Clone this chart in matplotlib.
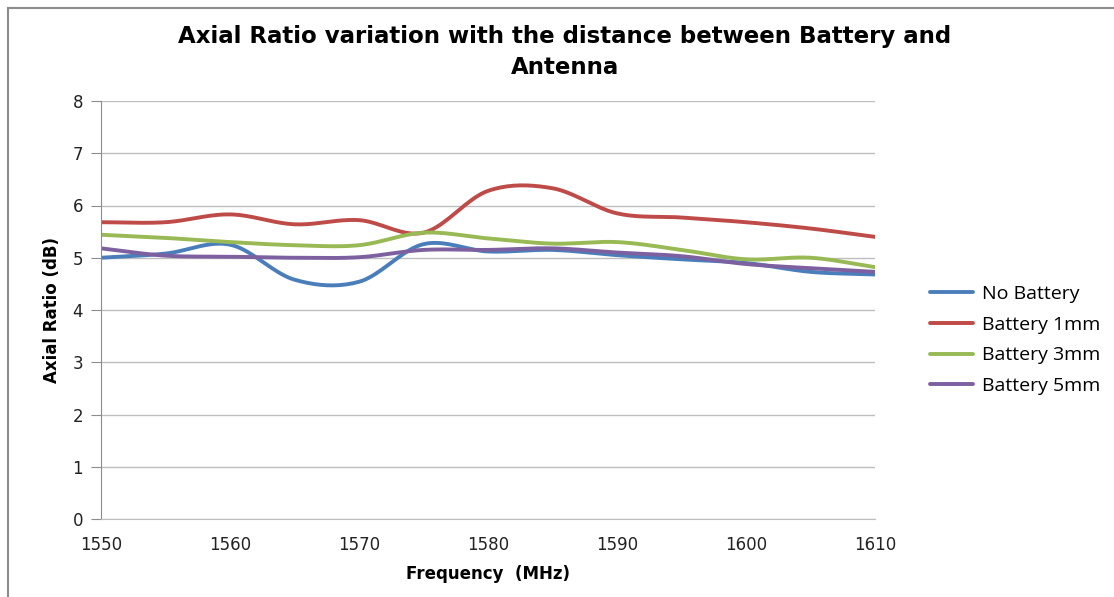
import numpy as np
import matplotlib
matplotlib.use("Agg")
import matplotlib.pyplot as plt
from matplotlib.lines import Line2D

# --- datos ---
freq = [1550, 1555, 1560, 1565, 1570, 1575, 1580, 1585, 1590, 1595, 1600, 1605, 1610]
no_battery = [5.00, 5.08, 5.25, 4.58, 4.54, 5.26, 5.12, 5.15, 5.05, 4.97, 4.90, 4.73, 4.68]
battery_1mm = [5.68, 5.68, 5.83, 5.64, 5.72, 5.48, 6.28, 6.33, 5.85, 5.77, 5.68, 5.56, 5.40]
battery_3mm = [5.44, 5.38, 5.30, 5.24, 5.24, 5.48, 5.37, 5.27, 5.30, 5.15, 4.97, 5.00, 4.82]
battery_5mm = [5.18, 5.04, 5.02, 5.00, 5.01, 5.15, 5.15, 5.18, 5.10, 5.03, 4.88, 4.80, 4.73]

series = [
    ("No Battery", no_battery, "#4A7EBB"),
    ("Battery 1mm", battery_1mm, "#BE4B48"),
    ("Battery 3mm", battery_3mm, "#98B954"),
    ("Battery 5mm", battery_5mm, "#7D60A0"),
]


def suavizar(x, y, n=20):
    """Curva Catmull-Rom como la linea suavizada de Excel"""
    x = np.asarray(x, float)
    y = np.asarray(y, float)
    px = np.concatenate([[2 * x[0] - x[1]], x, [2 * x[-1] - x[-2]]])
    py = np.concatenate([[2 * y[0] - y[1]], y, [2 * y[-1] - y[-2]]])
    xs, ys = [], []
    t = np.linspace(0, 1, n, endpoint=False)
    for i in range(1, len(px) - 2):
        for p, out in ((px, xs), (py, ys)):
            p0, p1, p2, p3 = p[i - 1], p[i], p[i + 1], p[i + 2]
            out.extend(0.5 * (2 * p1 + (-p0 + p2) * t
                              + (2 * p0 - 5 * p1 + 4 * p2 - p3) * t ** 2
                              + (-p0 + 3 * p1 - 3 * p2 + p3) * t ** 3))
    xs.append(x[-1])
    ys.append(y[-1])
    return np.array(xs), np.array(ys)


fuente = ['Liberation Sans Narrow', 'DejaVu Sans']
plt.rcParams['font.family'] = fuente

fig = plt.figure(figsize=(11.14, 5.97), dpi=100)
ax = fig.add_axes([101 / 1114, 1 - 519 / 597, (875 - 101) / 1114, (519 - 101) / 597])

for nombre, valores, color in series:
    xs, ys = suavizar(freq, valores)
    ax.plot(xs, ys, color=color, lw=2.8, label=nombre, solid_capstyle='round')

ax.set_xlim(1550, 1610)
ax.set_ylim(0, 8)
ax.set_xticks(range(1550, 1611, 10))
ax.set_yticks(range(0, 9))
ax.yaxis.grid(True, color='#BEBEBE', lw=1.0)
ax.set_axisbelow(True)
for lado in ['top', 'right']:
    ax.spines[lado].set_visible(False)
ax.spines['left'].set_color('#8C8C8C')
ax.spines['bottom'].set_color('#BEBEBE')
ax.tick_params(axis='y', length=7, color='#8C8C8C', labelsize=12, pad=6, labelcolor='#222222')
ax.tick_params(axis='x', length=0, labelsize=12, pad=12, labelcolor='#222222')

ax.set_xlabel('Frequency  (MHz)', fontsize=12, fontweight='bold', labelpad=8)
ax.set_ylabel('Axial Ratio (dB)', fontsize=12, fontweight='bold', labelpad=8)

fig.text(565 / 1114, 1 - 52 / 597,
         'Axial Ratio variation with the distance between Battery and\nAntenna',
         ha='center', va='center', fontsize=16.5, fontweight='bold', linespacing=1.45)

leg = ax.legend(loc='center left', bbox_to_anchor=((930 - 101) / 774, (519 - 340) / 418),
                frameon=False, handlelength=2.2, labelspacing=0.65, handletextpad=0.45,
                borderpad=0, borderaxespad=0,
                prop={'family': ['Open Sans', 'DejaVu Sans'], 'size': 14})

# borde del area del grafico
fig.add_artist(Line2D([8 / 1114, 1], [1 - 8 / 597, 1 - 8 / 597], transform=fig.transFigure,
                      color='#8C8C8C', lw=1.5))
fig.add_artist(Line2D([8 / 1114, 8 / 1114], [0, 1 - 8 / 597], transform=fig.transFigure,
                      color='#8C8C8C', lw=1.5))

fig.savefig('out.png', dpi=100)
